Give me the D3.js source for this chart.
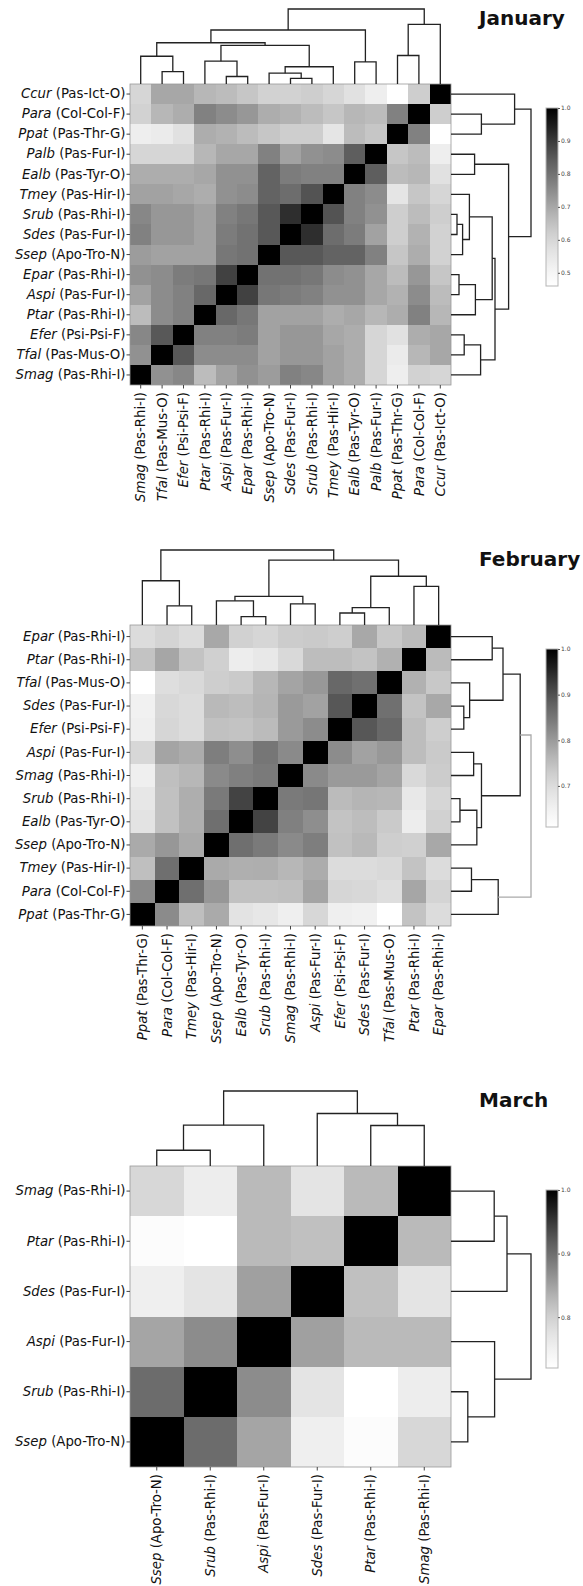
<!DOCTYPE html>
<html>
<head>
<meta charset="utf-8">
<script src="https://cdn.jsdelivr.net/npm/d3@7"></script>
<style>
  body { margin: 0; background: #fff; }
  text { font-family: "DejaVu Sans", Verdana, sans-serif; }
</style>
</head>
<body>
<svg id="chart"></svg>
<script>
// species short names and their group tags
const speciesNames = ["Smag","Tfal","Efer","Ptar","Aspi","Epar","Ssep","Sdes","Srub","Tmey","Ealb","Palb","Ppat","Para","Ccur"];
const speciesTags = ["Pas-Rhi-I","Pas-Mus-O","Psi-Psi-F","Pas-Rhi-I","Pas-Fur-I","Pas-Rhi-I","Apo-Tro-N","Pas-Fur-I","Pas-Rhi-I","Pas-Hir-I","Pas-Tyr-O","Pas-Fur-I","Pas-Thr-G","Col-Col-F","Pas-Ict-O"];

const monthTitles = ["January", "February", "March"];

// January: column order, lower triangle of correlation, linkage, colour range
const janOrder = ["Smag","Tfal","Efer","Ptar","Aspi","Epar","Ssep","Sdes","Srub","Tmey","Ealb","Palb","Ppat","Para","Ccur"];
const janLower = [
  [],
  [0.74],
  [0.76, 0.85],
  [0.66, 0.75, 0.77],
  [0.71, 0.75, 0.77, 0.82],
  [0.74, 0.75, 0.78, 0.79, 0.89],
  [0.72, 0.71, 0.71, 0.71, 0.79, 0.80],
  [0.77, 0.73, 0.73, 0.71, 0.78, 0.80, 0.85],
  [0.76, 0.73, 0.73, 0.71, 0.77, 0.79, 0.85, 0.92],
  [0.71, 0.71, 0.70, 0.69, 0.74, 0.75, 0.83, 0.81, 0.86],
  [0.69, 0.69, 0.69, 0.70, 0.74, 0.74, 0.83, 0.78, 0.77, 0.77],
  [0.60, 0.60, 0.60, 0.67, 0.70, 0.70, 0.77, 0.71, 0.74, 0.75, 0.84],
  [0.53, 0.54, 0.57, 0.69, 0.68, 0.66, 0.64, 0.62, 0.62, 0.56, 0.66, 0.64],
  [0.61, 0.67, 0.69, 0.77, 0.75, 0.73, 0.69, 0.68, 0.66, 0.64, 0.67, 0.66, 0.77],
  [0.60, 0.70, 0.70, 0.67, 0.66, 0.64, 0.61, 0.61, 0.62, 0.60, 0.57, 0.53, 0.46, 0.62]
];
// [a, b, height] -- a number points to an earlier merge
const janLinks = [
  ["Sdes","Srub",0.075], ["Ssep",0,0.145], ["Tmey",1,0.23],
  ["Aspi","Epar",0.10], ["Ptar",3,0.305], [4,2,0.515],
  ["Tfal","Efer",0.165], ["Smag",6,0.37], [7,5,0.55],
  ["Ealb","Palb",0.295], [8,9,0.72],
  ["Ppat","Para",0.38], [11,"Ccur",0.795], [10,12,1.0]
];
const janMin = 0.46;
const janTicks = [0.5, 0.6, 0.7, 0.8, 0.9, 1.0];

// February
const febOrder = ["Ppat","Para","Tmey","Ssep","Ealb","Srub","Smag","Aspi","Efer","Sdes","Tfal","Ptar","Epar"];
const febLower = [
  [],
  [0.82],
  [0.75, 0.86],
  [0.78, 0.805, 0.78],
  [0.685, 0.748, 0.773, 0.86],
  [0.676, 0.748, 0.775, 0.844, 0.918],
  [0.659, 0.751, 0.762, 0.822, 0.836, 0.844],
  [0.709, 0.787, 0.777, 0.838, 0.816, 0.85, 0.822],
  [0.659, 0.712, 0.70, 0.748, 0.744, 0.757, 0.80, 0.819],
  [0.652, 0.708, 0.70, 0.76, 0.754, 0.765, 0.80, 0.79, 0.893],
  [0.61, 0.696, 0.705, 0.727, 0.733, 0.762, 0.787, 0.803, 0.87, 0.858],
  [0.744, 0.785, 0.744, 0.723, 0.663, 0.675, 0.705, 0.754, 0.754, 0.744, 0.77],
  [0.70, 0.716, 0.70, 0.782, 0.72, 0.712, 0.73, 0.733, 0.727, 0.782, 0.737, 0.757]
];
const febLinks = [
  ["Para","Tmey",0.256], ["Ppat",0,0.59],
  ["Ealb","Srub",0.112], ["Ssep",2,0.323], ["Smag","Aspi",0.283], [3,4,0.381],
  ["Efer","Sdes",0.16], [6,"Tfal",0.233], ["Ptar","Epar",0.515], [7,8,0.65],
  [5,9,0.865], [1,10,1.0]
];
const febMin = 0.61;
const febTicks = [0.7, 0.8, 0.9, 1.0];

// March
const marOrder = ["Ssep","Srub","Aspi","Sdes","Ptar","Smag"];
const marLower = [
  [],
  [0.903],
  [0.847, 0.87],
  [0.755, 0.773, 0.851],
  [0.727, 0.72, 0.826, 0.82],
  [0.791, 0.758, 0.826, 0.773, 0.826]
];
const marLinks = [
  ["Ssep","Srub",0.21], [0,"Aspi",0.545], ["Ptar","Smag",0.54], ["Sdes",2,0.70], [1,3,1.0]
];
const marMin = 0.72;
const marTicks = [0.8, 0.9, 1.0];

const W = 583, H = 1586;
const hmLeft = 130, hmWidth = 321, hmHeight = 301;
const topDendro = 75, rightDendro = 80;

const tagOf = {};
speciesNames.forEach((s, i) => tagOf[s] = speciesTags[i]);

const svg = d3.select("#chart").attr("width", W).attr("height", H);
const defs = svg.append("defs");

const panels = [
  { title: monthTitles[0], top: 84,   order: janOrder, lower: janLower, links: janLinks, vmin: janMin, ticks: janTicks, rootColor: "#222" },
  { title: monthTitles[1], top: 625,  order: febOrder, lower: febLower, links: febLinks, vmin: febMin, ticks: febTicks, rootColor: "#aaa" },
  { title: monthTitles[2], top: 1166, order: marOrder, lower: marLower, links: marLinks, vmin: marMin, ticks: marTicks, rootColor: "#222" }
];

function labelText(sel) {
  sel.each(function(d) {
    const t = d3.select(this).text(null);
    t.append("tspan").attr("font-style", "italic").text(d);
    t.append("tspan").text(" (" + tagOf[d] + ")");
  });
}

function drawDendro(g, links, pos, hs, vertical, rootColor) {
  const nodes = [];
  const get = k => typeof k === "number" ? nodes[k] : { p: pos(k), h: 0 };
  links.forEach(([a, b, h], i) => {
    const A = get(a), B = get(b);
    nodes.push({ p: (A.p + B.p) / 2, h: h });
    const d = vertical
      ? `M${A.p},${hs(A.h)}V${hs(h)}H${B.p}V${hs(B.h)}`
      : `M${hs(A.h)},${A.p}H${hs(h)}V${B.p}H${hs(B.h)}`;
    g.append("path")
      .attr("d", d)
      .attr("fill", "none")
      .attr("stroke", i === links.length - 1 ? rootColor : "#222")
      .attr("stroke-width", 1.3);
  });
}

panels.forEach((p, pi) => {
  const g = svg.append("g");
  const x = d3.scaleBand().domain(p.order).range([hmLeft, hmLeft + hmWidth]);
  const y = d3.scaleBand().domain(p.order.slice().reverse()).range([p.top, p.top + hmHeight]);
  const color = d3.scaleSequential(d3.interpolateGreys).domain([p.vmin, 1]);

  const value = (i, j) => i === j ? 1 : (i > j ? p.lower[i][j] : p.lower[j][i]);
  const cells = [];
  p.order.forEach((r, i) => p.order.forEach((c, j) => cells.push({ row: r, col: c, v: value(i, j) })));

  g.append("g").selectAll("rect").data(cells).join("rect")
    .attr("x", d => x(d.col))
    .attr("y", d => y(d.row))
    .attr("width", x.bandwidth())
    .attr("height", y.bandwidth())
    .attr("fill", d => color(d.v))
    .attr("shape-rendering", "crispEdges");

  g.append("rect")
    .attr("x", hmLeft).attr("y", p.top)
    .attr("width", hmWidth).attr("height", hmHeight)
    .attr("fill", "none").attr("stroke", "#999").attr("stroke-width", 0.8);

  // row labels
  const ya = g.append("g")
    .attr("transform", `translate(${hmLeft},0)`)
    .call(d3.axisLeft(y).tickSize(3.5).tickPadding(1))
    .attr("font-size", 13.3)
    .attr("font-family", "DejaVu Sans, sans-serif");
  ya.select(".domain").remove();
  ya.selectAll("line").attr("stroke", "#444");
  ya.selectAll("text").attr("fill", "#111").call(labelText);

  // column labels
  const xa = g.append("g")
    .attr("transform", `translate(0,${p.top + hmHeight})`)
    .call(d3.axisBottom(x).tickSize(3.5))
    .attr("font-size", 13.3)
    .attr("font-family", "DejaVu Sans, sans-serif");
  xa.select(".domain").remove();
  xa.selectAll("line").attr("stroke", "#444");
  xa.selectAll("text")
    .attr("y", 0).attr("x", -7).attr("dy", "0.35em")
    .attr("transform", "rotate(-90)")
    .attr("text-anchor", "end")
    .attr("fill", "#111")
    .call(labelText);

  // dendrograms
  const hsTop = d3.scaleLinear().domain([0, 1]).range([p.top, p.top - topDendro]);
  drawDendro(g, p.links, k => x(k) + x.bandwidth() / 2, hsTop, true, "#222");
  const hsRight = d3.scaleLinear().domain([0, 1]).range([hmLeft + hmWidth, hmLeft + hmWidth + rightDendro]);
  drawDendro(g, p.links, k => y(k) + y.bandwidth() / 2, hsRight, false, p.rootColor);

  // colour bar
  const cbX = 546, cbW = 12, cbTop = p.top + 24, cbH = 178;
  const grad = defs.append("linearGradient").attr("id", "cb" + pi)
    .attr("x1", 0).attr("y1", 1).attr("x2", 0).attr("y2", 0);
  d3.range(0, 1.0001, 0.1).forEach(t => {
    grad.append("stop").attr("offset", t).attr("stop-color", d3.interpolateGreys(t));
  });
  g.append("rect")
    .attr("x", cbX).attr("y", cbTop).attr("width", cbW).attr("height", cbH)
    .attr("fill", `url(#cb${pi})`).attr("stroke", "#b5b5b5").attr("stroke-width", 1);
  const cbScale = d3.scaleLinear().domain([p.vmin, 1]).range([cbTop + cbH, cbTop]);
  const ca = g.append("g")
    .attr("transform", `translate(${cbX + cbW},0)`)
    .call(d3.axisRight(cbScale).tickValues(p.ticks).tickFormat(d3.format(".1f")).tickSize(2).tickPadding(1))
    .attr("font-size", 6)
    .attr("font-family", "DejaVu Sans, sans-serif");
  ca.select(".domain").remove();
  ca.selectAll("line").attr("stroke", "#555");
  ca.selectAll("text").attr("fill", "#444");

  // month title
  g.append("text")
    .attr("x", 479).attr("y", p.top - 59)
    .attr("font-size", 20).attr("font-weight", "bold")
    .attr("fill", "#111")
    .text(p.title);
});
</script>
</body>
</html>
